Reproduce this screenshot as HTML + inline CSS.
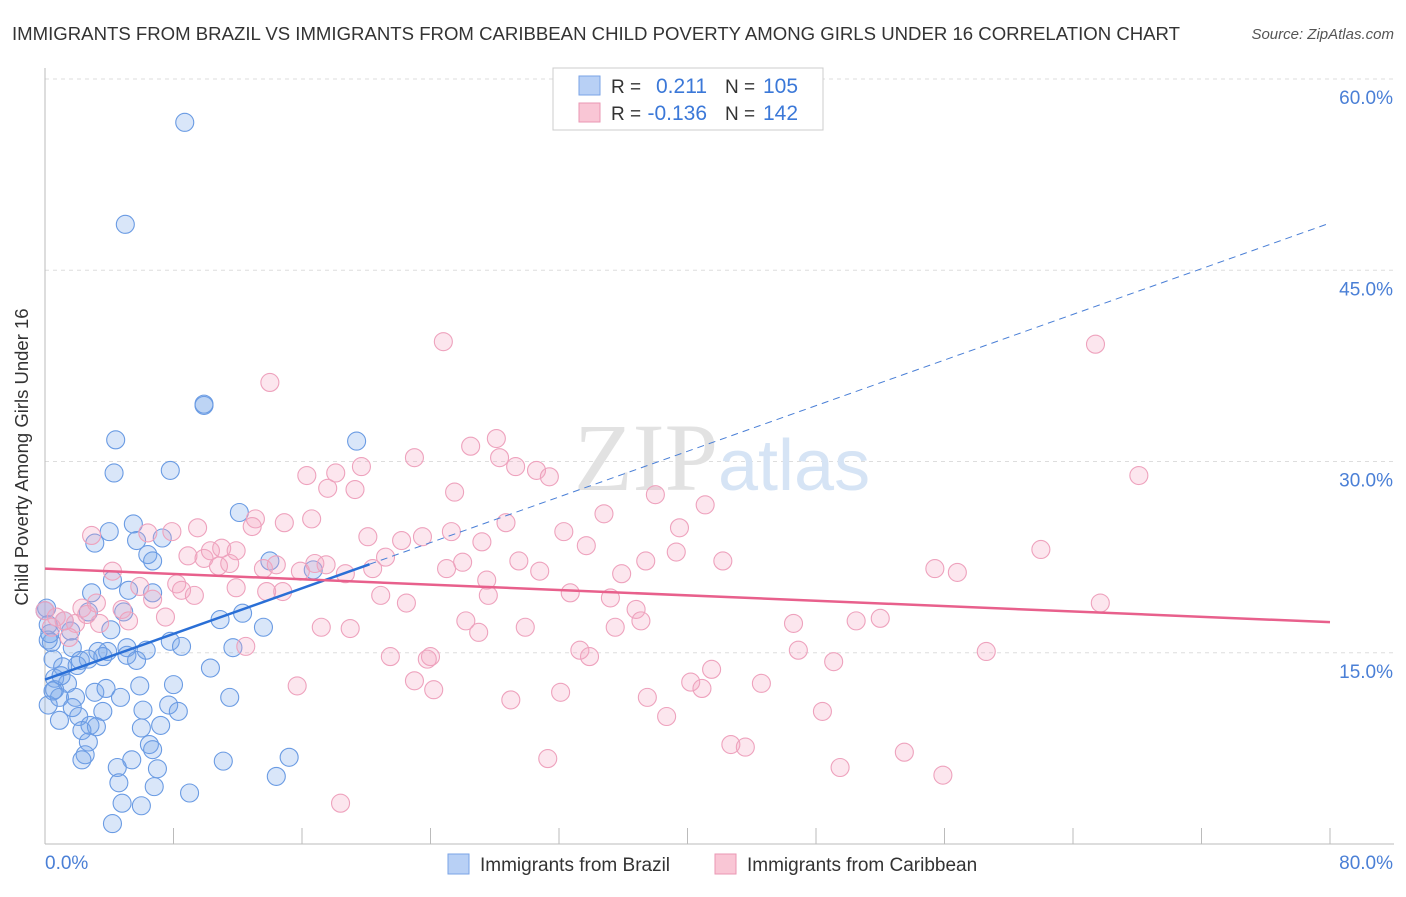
<!DOCTYPE html>
<html><head><meta charset="utf-8"><style>
body{margin:0;background:#fff;font-family:"Liberation Sans",sans-serif}
</style></head><body>
<svg width="1406" height="892" xmlns="http://www.w3.org/2000/svg" font-family="Liberation Sans, sans-serif">
<text x="12" y="40" font-size="18" fill="#333" textLength="1168" lengthAdjust="spacingAndGlyphs">IMMIGRANTS FROM BRAZIL VS IMMIGRANTS FROM CARIBBEAN CHILD POVERTY AMONG GIRLS UNDER 16 CORRELATION CHART</text>
<text x="1394" y="39" font-size="15" fill="#555" font-style="italic" text-anchor="end">Source: ZipAtlas.com</text>
<g id="grid"></g>
<text x="718" y="490" font-size="96" fill="#e2e2e2" text-anchor="end" font-family="Liberation Serif, serif">ZIP</text>
<text x="718" y="490" font-size="72" fill="#d6e4f5">atlas</text>
<g id="pts"></g>
<g id="trends"></g>
<text x="28" y="457" font-size="18.5" fill="#333" text-anchor="middle" transform="rotate(-90 28 457)">Child Poverty Among Girls Under 16</text>
<g>
<rect x="553" y="68" width="270" height="62" fill="#fff" stroke="#ccc"/>
<rect x="579" y="76" width="21" height="19" fill="#b8d0f5" stroke="#7aa3e6"/>
<rect x="579" y="103" width="21" height="19" fill="#f9c6d5" stroke="#ea97b3"/>
<text x="611" y="93" font-size="19" fill="#333">R =</text><text x="707" y="93" font-size="21" fill="#3b78d8" text-anchor="end">0.211</text>
<text x="725" y="93" font-size="19" fill="#333">N =</text><text x="763" y="93" font-size="21" fill="#3b78d8">105</text>
<text x="611" y="120" font-size="19" fill="#333">R =</text><text x="707" y="120" font-size="21" fill="#3b78d8" text-anchor="end">-0.136</text>
<text x="725" y="120" font-size="19" fill="#333">N =</text><text x="763" y="120" font-size="21" fill="#3b78d8">142</text>
</g>
<g>
<rect x="448" y="854" width="21" height="20" fill="#b8d0f5" stroke="#7aa3e6"/>
<text x="480" y="871" font-size="19" fill="#333">Immigrants from Brazil</text>
<rect x="715" y="854" width="21" height="20" fill="#f9c6d5" stroke="#ea97b3"/>
<text x="747" y="871" font-size="19" fill="#333">Immigrants from Caribbean</text>
</g>
</svg>
<script>
const xTickLabels=["0.0%","80.0%"];
const yTicks=[15,30,45,60];
const yTickLabels=["15.0%","30.0%","45.0%","60.0%"];
const brazilX=[8.7,5.0,9.9,9.9,4.4,19.4,4.3,7.8,12.1,5.5,4.0,3.1,5.7,7.3,6.4,6.7,14.0,16.7,4.2,2.9,5.2,6.7,2.7,4.9,12.3,10.9,0.1,0.2,1.6,4.1,13.6,0.4,1.7,3.3,3.9,5.1,6.3,5.1,5.7,7.8,8.5,11.7,0.5,1.1,2.2,2.7,3.6,10.3,0.6,1.4,0.6,0.9,1.9,3.1,3.8,5.9,8.0,4.7,11.5,0.2,0.9,1.7,2.1,3.6,6.1,7.7,8.3,2.8,3.2,6.0,7.2,2.3,2.7,6.5,6.7,2.5,2.3,5.4,11.1,15.2,4.5,7.0,14.4,4.6,6.8,9.0,4.8,6.0,4.2,0.2,0.0,0.3,1.0,0.5,2.0,1.2];
const brazilY=[56.6,48.6,34.4,34.5,31.7,31.6,29.1,29.3,26.0,25.1,24.5,23.6,23.8,24.0,22.7,22.2,22.2,21.5,20.7,19.7,19.9,19.7,18.2,18.2,18.1,17.6,18.5,17.2,16.7,16.8,17.0,15.8,15.4,15.1,15.1,15.4,15.2,14.8,14.4,15.9,15.5,15.4,14.5,13.9,14.4,14.5,14.7,13.8,13.0,12.6,12.1,11.5,11.5,11.9,12.2,12.4,12.5,11.5,11.5,10.9,9.7,10.7,10.0,10.4,10.5,10.9,10.4,9.3,9.2,9.1,9.3,8.9,8.0,7.8,7.4,7.0,6.6,6.6,6.5,6.8,6.0,5.9,5.3,4.8,4.5,4.0,3.2,3.0,1.6,16.0,18.3,16.5,13.2,12.0,14.0,17.5];
const caribX=[24.8,65.4,14.0,28.1,26.5,23.0,28.3,29.3,19.7,18.1,16.3,30.6,68.1,17.6,19.3,25.5,38.0,41.1,31.4,13.1,16.6,14.9,25.3,28.7,34.8,39.5,2.9,6.4,7.9,9.5,12.9,20.1,22.2,23.5,27.2,32.3,33.7,62.0,8.9,9.9,10.3,11.0,11.9,21.2,26.0,29.5,37.4,39.3,42.2,10.8,11.5,13.6,14.4,15.9,16.8,17.5,18.7,20.4,25.0,30.8,35.9,55.4,56.8,4.2,8.2,5.9,8.5,11.9,13.8,14.8,20.9,27.5,27.6,32.7,35.2,6.7,9.3,22.5,3.2,2.3,4.8,5.2,7.5,36.8,65.7,0.7,1.2,1.9,3.4,26.2,37.1,46.6,50.5,52.0,17.2,19.0,27.0,29.9,35.5,12.5,46.9,33.3,33.9,24.0,23.8,21.5,49.1,58.6,41.5,23.0,40.2,40.9,44.6,15.7,24.2,32.1,37.5,29.0,48.4,38.7,42.7,43.6,53.5,31.3,49.5,55.9,18.4,0.0,0.4,1.5,2.6];
const caribY=[39.4,39.2,36.2,31.8,31.2,30.3,30.3,29.6,29.6,29.1,28.9,29.3,28.9,27.9,27.8,27.6,27.4,26.6,28.8,25.5,25.5,25.2,24.5,25.2,25.9,24.8,24.2,24.4,24.5,24.8,24.9,24.1,23.8,24.1,23.7,24.5,23.4,23.1,22.6,22.4,23.0,23.2,23.0,22.5,22.1,22.2,22.2,22.9,22.2,21.8,22.0,21.6,21.9,21.4,22.0,21.9,21.2,21.6,21.6,21.4,21.2,21.6,21.3,21.4,20.4,20.2,19.9,20.1,19.8,19.8,19.5,20.7,19.5,19.7,19.3,19.2,19.5,18.9,18.9,18.5,18.4,17.5,17.8,18.4,18.9,17.8,17.5,17.3,17.3,17.5,17.5,17.3,17.5,17.7,17.0,16.9,16.6,17.0,17.0,15.5,15.2,15.2,14.7,14.7,14.5,14.7,14.3,15.1,13.7,12.8,12.7,12.2,12.6,12.4,12.1,11.9,11.5,11.3,10.4,10.0,7.8,7.6,7.2,6.7,6.0,5.4,3.2,18.3,17.0,16.2,18.0];
const brazilTrend=[12.9,48.7];
const brazilSolidEnd=20.2;
const caribTrend=[21.6,17.4];

const NS="http://www.w3.org/2000/svg";
const X0=45,X1=1330,Y0=844,YT=79;
const sx=v=>X0+v/80*(X1-X0);
const sy=v=>Y0-v/60*(Y0-YT);
function mk(t,a,p){const e=document.createElementNS(NS,t);for(const k in a)e.setAttribute(k,a[k]);p.appendChild(e);return e;}
const grid=document.getElementById('grid');
yTicks.forEach((v,i)=>{
  const l=mk('line',{x1:X0,x2:1394,y1:sy(v),y2:sy(v),stroke:'#ddd','stroke-dasharray':'4 4'},grid);
  
  
  const t=mk('text',{x:1393,y:sy(v)+25,'font-size':19,fill:'#4a7fd6','text-anchor':'end'},grid);
  t.textContent=yTickLabels[i];
  
  
});
const ax=mk('line',{x1:X0,x2:X0,y1:68,y2:Y0,stroke:'#bbb'},grid);


const bx=mk('line',{x1:X0,x2:1394,y1:Y0,y2:Y0,stroke:'#bbb'},grid);


for(let v=0;v<=80;v+=8){
  const tk=mk('line',{x1:sx(v),x2:sx(v),y1:Y0,y2:Y0-16,stroke:'#bbb'},grid);
  
  
}
[[0,'start',X0],[1,'end',1393]].forEach(([i,a,x])=>{
  const t=mk('text',{x:x,y:869,'font-size':19,fill:'#4a7fd6','text-anchor':a},grid);
  t.textContent=xTickLabels[i];
  
  
});
const pts=document.getElementById('pts');
brazilX.forEach((x,i)=>{
  const c=mk('circle',{cx:sx(x),cy:sy(brazilY[i]),r:9,fill:'rgba(120,165,235,0.28)',stroke:'#6a9be3','stroke-width':1.1},pts);
  
  
});
caribX.forEach((x,i)=>{
  const c=mk('circle',{cx:sx(x),cy:sy(caribY[i]),r:9,fill:'rgba(245,165,195,0.28)',stroke:'#eea2bd','stroke-width':1.1},pts);
  
  
});
const tr=document.getElementById('trends');
const by=x=>brazilTrend[0]+(brazilTrend[1]-brazilTrend[0])*x/80;
const l1=mk('line',{x1:sx(brazilSolidEnd),y1:sy(by(brazilSolidEnd)),x2:sx(80),y2:sy(by(80)),stroke:'#4a7fd6','stroke-width':1,'stroke-dasharray':'7 5'},tr);


const l2=mk('line',{x1:sx(0),y1:sy(by(0)),x2:sx(brazilSolidEnd),y2:sy(by(brazilSolidEnd)),stroke:'#2a6fd6','stroke-width':2.5},tr);


const l3=mk('line',{x1:sx(0),y1:sy(caribTrend[0]),x2:sx(80),y2:sy(caribTrend[1]),stroke:'#e8608c','stroke-width':2.5},tr);


</script>
</body></html>
